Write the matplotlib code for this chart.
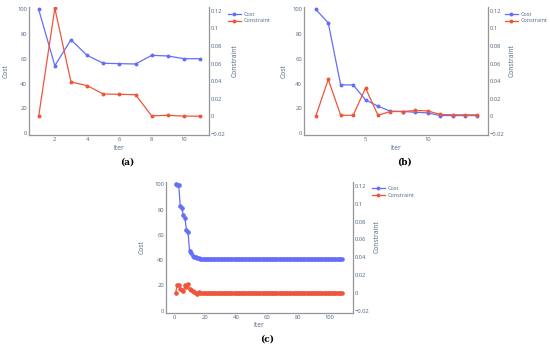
import matplotlib
matplotlib.use("Agg")
import matplotlib.pyplot as plt
from matplotlib.ticker import FuncFormatter, FixedLocator
from matplotlib.lines import Line2D

plt.rcParams['font.family'] = ['Open Sans', 'DejaVu Sans']

# ---- data -------------------------------------------------------------
iter_a = [1, 2, 3, 4, 5, 6, 7, 8, 9, 10, 11]
cost_a = [100, 54.6, 75.5, 62.9, 56.5, 56.2, 55.9, 62.9, 62.4, 60.2, 60.2]
cons_a = [0.0, 0.123, 0.039, 0.0348, 0.0253, 0.0249, 0.0245, 0.0003, 0.001, 0.0, 0.0]

iter_b = [1, 2, 3, 4, 5, 6, 7, 8, 9, 10, 11, 12, 13, 14]
cost_b = [100, 89.2, 39.0, 39.0, 26.9, 21.8, 17.7, 17.5, 16.9, 16.4, 14.2, 14.2, 14.2, 14.2]
cons_b = [0.0, 0.0419, 0.001, 0.001, 0.032, 0.001, 0.0053, 0.0053, 0.0065, 0.006,
          0.0019, 0.0015, 0.0015, 0.0015]

iter_c = list(range(1, 109))
cost_c = [100, 99.6, 99.3, 82.5, 81.0, 75.5, 73.5, 63.5, 62.0, 47.0,
          45.5, 43.5, 42.8, 42.3, 41.8, 41.5, 41.2, 41.1, 41.1, 41.1,
          41.1, 41.1, 41.1, 41.1, 41.1, 41.1, 41.1, 41.1, 41.1, 41.1,
          41.0, 41.0, 41.0, 41.0, 41.0, 41.0, 41.0, 41.0, 41.0, 41.0,
          41.0, 41.0, 41.0, 41.0, 41.0, 41.0, 41.0, 41.0, 41.0, 41.0,
          41.0, 41.0, 41.0, 41.0, 41.0, 41.0, 41.0, 41.0, 41.0, 41.0,
          41.0, 41.0, 41.0, 41.0, 41.0, 41.0, 41.0, 41.0, 41.0, 41.0,
          40.9, 40.9, 40.9, 40.9, 40.9, 40.9, 40.9, 40.9, 40.9, 40.9,
          40.9, 40.9, 40.9, 40.9, 40.9, 40.9, 40.9, 40.9, 40.9, 40.9,
          40.9, 40.9, 40.9, 40.9, 40.9, 40.9, 40.9, 40.9, 40.8, 40.8,
          40.8, 40.8, 40.8, 40.8, 40.8, 40.7, 40.7, 40.7]
cons_c = [0.0, 0.0095, 0.0093, 0.0052, 0.0038, 0.002, 0.0092, 0.0072, 0.0098, 0.0052,
          0.0035, 0.0025, 0.0015, 0.0008, -0.0006, 0.0012, 0.0005, 0.0004, 0.0004, 0.0004,
          0.0004, 0.0004, 0.0004, 0.0004, 0.0004, 0.0004, 0.0004, 0.0004, 0.0004, 0.0004,
          0.0003, 0.0003, 0.0003, 0.0003, 0.0003, 0.0003, 0.0003, 0.0003, 0.0003, 0.0003,
          0.0003, 0.0003, 0.0003, 0.0003, 0.0003, 0.0003, 0.0003, 0.0003, 0.0003, 0.0003,
          0.0003, 0.0003, 0.0003, 0.0003, 0.0003, 0.0003, 0.0003, 0.0003, 0.0003, 0.0003,
          0.0003, 0.0003, 0.0003, 0.0003, 0.0003, 0.0003, 0.0003, 0.0003, 0.0003, 0.0003,
          0.0002, 0.0002, 0.0002, 0.0002, 0.0002, 0.0002, 0.0002, 0.0002, 0.0002, 0.0002,
          0.0002, 0.0002, 0.0002, 0.0002, 0.0002, 0.0002, 0.0002, 0.0002, 0.0002, 0.0002,
          0.0002, 0.0002, 0.0002, 0.0002, 0.0002, 0.0002, 0.0002, 0.0002, 0.0001, 0.0001,
          0.0001, 0.0, 0.0, 0.0, 0.0, -0.0001, -0.0001, -0.0001]

xticks_a = [2, 4, 6, 8, 10]
xticks_b = [5, 10]
xticks_c = [0, 20, 40, 60, 80, 100]
cost_ticks = [0, 20, 40, 60, 80, 100]
cons_ticks = [-0.02, 0, 0.02, 0.04, 0.06, 0.08, 0.1, 0.12]
# ------------------------------------------------------------------------

BLUE = '#636efa'
RED = '#ef553b'
TXT = '#506784'
AXC = '#959595'
W, H = 550.0, 350.0

fig = plt.figure(figsize=(5.5, 3.5), dpi=100)


def px(x, y):
    return x / W, 1 - y / H


def fmt(v, pos):
    s = '%g' % round(v, 4)
    return s.replace('-', '\u2212')


def panel(box, xs, cost, cons, xticks, xlim, letter, lab, ms):
    left, top, right, bottom = box
    ax = fig.add_axes([left / W, 1 - bottom / H, (right - left) / W, (bottom - top) / H])
    ax2 = ax.twinx()
    ax.plot(xs, cost, color=BLUE, lw=0.9, marker='o', ms=ms, zorder=3)
    ax2.plot(xs, cons, color=RED, lw=0.9, marker='o', ms=ms, zorder=3)
    ax.set_xlim(*xlim)
    ax.set_ylim(-1.5, 102)
    ax2.set_ylim(-0.0215, 0.1245)
    ax.xaxis.set_major_locator(FixedLocator(xticks))
    ax.yaxis.set_major_locator(FixedLocator(cost_ticks))
    ax2.yaxis.set_major_locator(FixedLocator(cons_ticks))
    ax2.yaxis.set_major_formatter(FuncFormatter(fmt))
    for a in (ax, ax2):
        a.set_facecolor('none')
        a.tick_params(length=0, pad=1.5, labelsize=4.2, labelcolor=TXT)
        for s in a.spines.values():
            s.set_color(AXC)
            s.set_linewidth(0.9)
        a.spines['top'].set_visible(False)
    ax.spines['right'].set_visible(False)
    ax2.spines['left'].set_visible(False)
    ax2.spines['bottom'].set_visible(False)

    cx = (left + right) / 2
    fig.text(*px(cx, bottom + 13), 'Iter', ha='center', va='center', fontsize=4.9, color=TXT)
    fig.text(*px(lab[0], (top + bottom) / 2), 'Cost', ha='center', va='center',
             rotation=90, fontsize=4.9, color=TXT)
    fig.text(*px(lab[1], (top + bottom) / 2 - 10), 'Constraint', ha='center', va='center',
             rotation=90, fontsize=4.9, color=TXT)
    fig.text(*px(cx + 8, bottom + 27), letter, ha='center', va='center', fontsize=6.5,
             fontweight='bold', family='DejaVu Serif', color='black')

    handles = [Line2D([], [], color=BLUE, lw=0.9, marker='o', ms=1.8),
               Line2D([], [], color=RED, lw=0.9, marker='o', ms=1.8)]
    ax.legend(handles, ['Cost', 'Constraint'], loc='upper left',
              bbox_to_anchor=px(lab[2], top + 4.5), bbox_transform=fig.transFigure,
              frameon=False, fontsize=4.0, labelcolor=TXT, handlelength=2.3,
              handletextpad=0.5, borderpad=0, borderaxespad=0, labelspacing=0.35)


panel((29, 7, 209, 135), iter_a, cost_a, cons_a, xticks_a, (0.4, 11.55), '(a)', (6, 235, 228), 1.8)
panel((304, 7, 488, 135), iter_b, cost_b, cons_b, xticks_b, (0.05, 14.85), '(b)', (284, 512, 505), 1.8)
panel((166, 181.7, 352.5, 312.5), iter_c, cost_c, cons_c, xticks_c, (-5.2, 115), '(c)', (142, 377, 372), 2.3)

fig.savefig('out.png', dpi=100, facecolor='white')
